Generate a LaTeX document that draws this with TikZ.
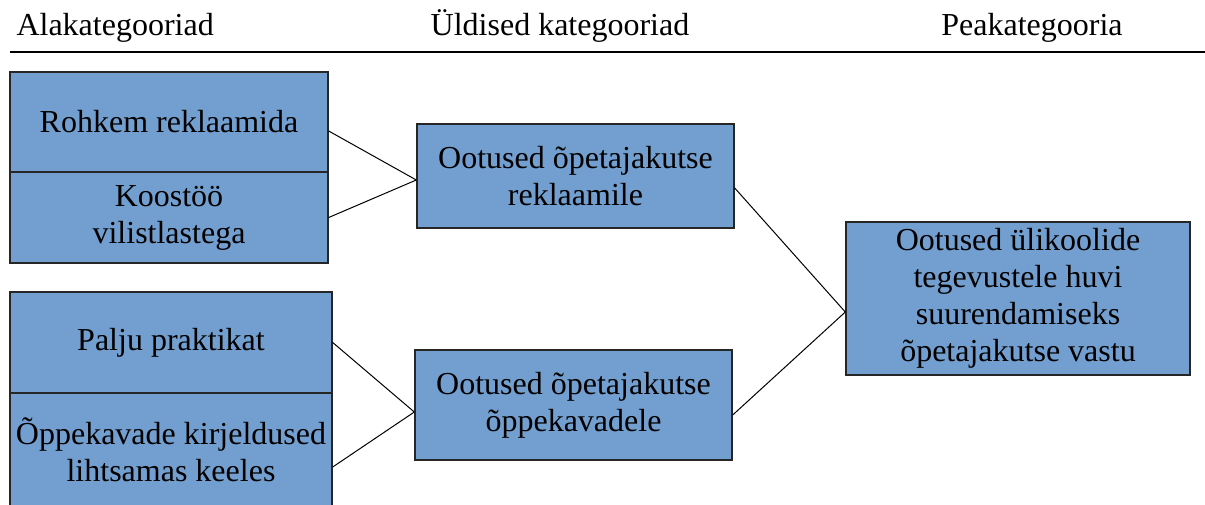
\documentclass[tikz,border=0pt]{standalone}
\usepackage{fontspec}
\setmainfont{LiberationSerif}[Extension=.ttf, UprightFont=*-Regular, BoldFont=*-Bold, ItalicFont=*-Italic]
\usepackage{tikz}
\usetikzlibrary{calc,positioning}

\definecolor{catblue}{RGB}{114,159,207}

\begin{document}
\begin{tikzpicture}[x=1pt, y=-1pt, line join=miter,
    every node/.style={font=\rmfamily\fontsize{32}{37}\selectfont},
    catbox/.style={draw=black!85, line width=1.4pt, fill=catblue, align=center, inner sep=0pt},
    link/.style={draw=black, line width=1pt}]

    \clip (0,0) rectangle (1205,504);

    % pealkirjad
    \node[anchor=base west] (hAla) at (13,35) {Alakategooriad};
    \node[anchor=base] (hYld) at (560,35) {Üldised kategooriad};
    \node[anchor=base] (hPea) at (1032,35) {Peakategooria};
    \coordinate (jL) at (10,52);
    \coordinate (jR) at (1205,52);
    \draw[line width=1.3pt] (jL) -- (jR);

    % alakategooriad
    \node[catbox, minimum width=318pt, minimum height=100pt] (rek) at (169,122) {Rohkem reklaamida};
    \node[catbox, minimum width=318pt, minimum height=91pt] (koos) at (169,217.5) {Koostöö\\vilistlastega};
    \node[catbox, minimum width=322pt, minimum height=101pt] (prak) at (171,342.5) {Palju praktikat};
    \node[catbox, minimum width=322pt, minimum height=114pt] (oppe) at (171,450) {Õppekavade kirjeldused\\lihtsamas keeles};

    % üldised kategooriad
    \node[catbox, minimum width=317pt, minimum height=104pt] (rekl) at (575.5,176) {Ootused õpetajakutse\\reklaamile};
    \node[catbox, minimum width=317pt, minimum height=110pt] (oppek) at (573.5,405) {Ootused õpetajakutse\\õppekavadele};

    % peakategooria
    \node[catbox, minimum width=344pt, minimum height=153pt] (pea) at (1018,298.5) {Ootused ülikoolide\\tegevustele huvi\\suurendamiseks\\õpetajakutse vastu};

    % seosed
    \draw[link] ([yshift=-9pt]rek.east) -- ([yshift=-4pt]rekl.west);
    \draw[link] (koos.east) -- ([yshift=-4pt]rekl.west);
    \draw[link] (prak.east) -- ([yshift=-7pt]oppek.west);
    \draw[link] ([yshift=-17pt]oppe.east) -- ([yshift=-7pt]oppek.west);
    \draw[link] ([yshift=-12pt]rekl.east) -- ([yshift=-13.5pt]pea.west);
    \draw[link] ([yshift=-10pt]oppek.east) -- ([yshift=-13.5pt]pea.west);

\end{tikzpicture}
\end{document}
